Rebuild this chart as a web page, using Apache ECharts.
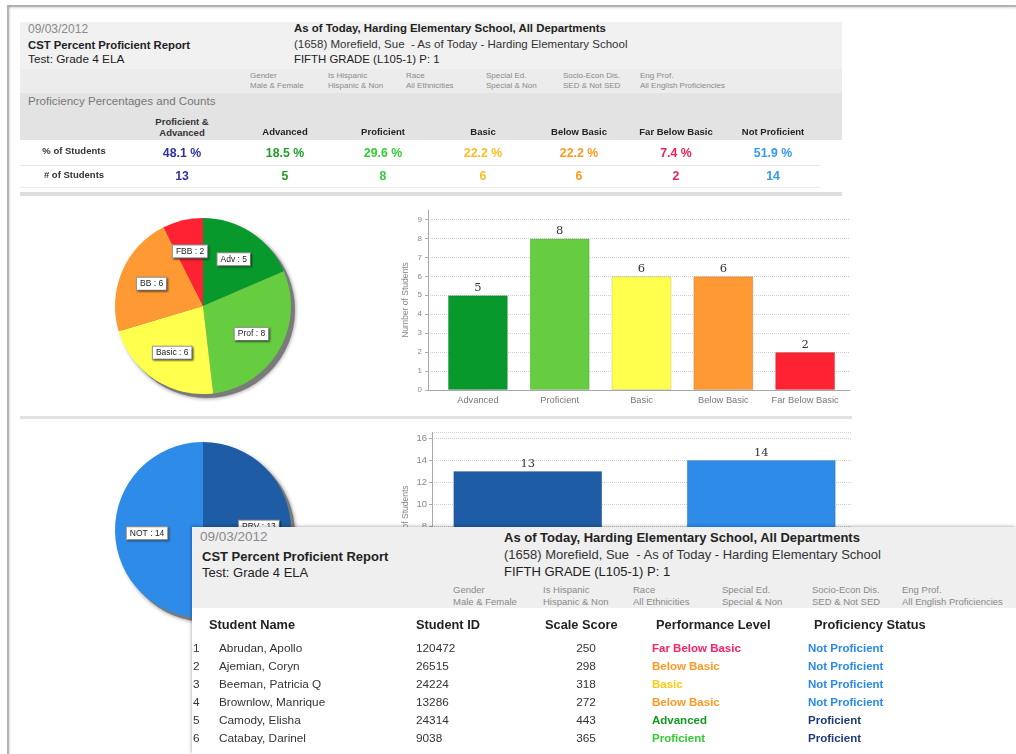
<!DOCTYPE html>
<html>
<head>
<meta charset="utf-8">
<title>CST Percent Proficient Report</title>
<script src="https://cdn.jsdelivr.net/npm/echarts@6/dist/echarts.min.js"></script>
<style>
body { margin: 0; width: 1016px; height: 754px; overflow: hidden; background: #fff; position: relative;
  font-family: "Liberation Sans", Arial, sans-serif; color: #222; }
#frameTop { position: absolute; left: 7px; top: 5px; right: 0; height: 2px; background: #b4b4b4; box-shadow: 0 1px 2px rgba(0,0,0,0.15); }
#frameLeft { position: absolute; left: 7px; top: 5px; bottom: 0; width: 2px; background: #b4b4b4; box-shadow: 1px 0 2px rgba(0,0,0,0.15); }
#chart { position: absolute; left: 0; top: 0; width: 1016px; height: 754px; z-index: 1; }
.band { position: absolute; z-index: 2; }
.t { position: absolute; white-space: pre; z-index: 3; transform: translateY(-50%); line-height: 1; }
.c { transform: translate(-50%, -50%); text-align: center; }
.b { font-weight: bold; }
#overlay { position: absolute; left: 192px; top: 527px; width: 824px; height: 227px; background: #fff; z-index: 5;
  box-shadow: -1px -1px 3px rgba(0,0,0,0.25); }
</style>
</head>
<body>
<div id="frameTop"></div>
<div id="frameLeft"></div>
<div id="chart"></div>
<div id="overlay"></div>
<script>
// header texts
var reportDate = '09/03/2012';
var reportTitle = 'CST Percent Proficient Report';
var reportTest = 'Test: Grade 4 ELA';
var scopeLines = ['As of Today, Harding Elementary School, All Departments',
  '(1658) Morefield, Sue  - As of Today - Harding Elementary School',
  'FIFTH GRADE (L105-1) P: 1'];
var filterNames = ['Gender', 'Is Hispanic', 'Race', 'Special Ed.', 'Socio-Econ Dis.', 'Eng Prof.'];
var filterValues = ['Male & Female', 'Hispanic & Non', 'All Ethnicities', 'Special & Non', 'SED & Not SED', 'All English Proficiencies'];

// summary table
var summaryHeads = ['Proficient &|Advanced', 'Advanced', 'Proficient', 'Basic', 'Below Basic', 'Far Below Basic', 'Not Proficient'];
var summaryPct = ['48.1 %', '18.5 %', '29.6 %', '22.2 %', '22.2 %', '7.4 %', '51.9 %'];
var summaryCount = [13, 5, 8, 6, 6, 2, 14];

// performance levels (pie + bar 1)
var levels = ['Advanced', 'Proficient', 'Basic', 'Below Basic', 'Far Below Basic'];
var levelShort = ['Adv', 'Prof', 'Basic', 'BB', 'FBB'];
var levelCounts = [5, 8, 6, 6, 2];

// proficiency status (pie + bar 2)
var statusCats = ['Proficient & Advanced', 'Not Proficient'];
var statusShort = ['PRV', 'NOT'];
var statusCounts = [13, 14];

// student list
var studentNames = ['Abrudan, Apollo', 'Ajemian, Coryn', 'Beeman, Patricia Q', 'Brownlow, Manrique', 'Camody, Elisha', 'Catabay, Darinel'];
var studentIds = ['120472', '26515', '24224', '13286', '24314', '9038'];
var studentScores = [250, 298, 318, 272, 443, 365];
var studentLevels = ['Far Below Basic', 'Below Basic', 'Basic', 'Below Basic', 'Advanced', 'Proficient'];
var studentStatus = ['Not Proficient', 'Not Proficient', 'Not Proficient', 'Not Proficient', 'Proficient', 'Proficient'];

// colours
var levelColors = ['#07992b', '#66cc40', '#ffff4d', '#ff9933', '#ff2233'];
var statusColors = ['#1f5ca6', '#2e8be8'];
var pctColors = ['#3030a8', '#1f9e22', '#33cc33', '#ffbb22', '#ff9922', '#ee2255', '#3399ee'];
var levelTextColor = { 'Far Below Basic': '#ff2266', 'Below Basic': '#ff9922', 'Basic': '#ffcc11', 'Advanced': '#119922', 'Proficient': '#33cc33' };
var statusTextColor = { 'Not Proficient': '#2a8aee', 'Proficient': '#1e3c78' };

function band(parent, x, y, w, h, bg) {
  var d = document.createElement('div');
  d.className = 'band';
  d.style.cssText = 'left:' + x + 'px;top:' + y + 'px;width:' + w + 'px;height:' + h + 'px;background:' + bg;
  parent.appendChild(d);
}
function put(parent, x, y, txt, size, color, cls) {
  var d = document.createElement('div');
  d.className = 't ' + (cls || '');
  d.style.left = x + 'px';
  d.style.top = y + 'px';
  d.style.fontSize = size + 'px';
  d.style.color = color;
  d.textContent = txt;
  parent.appendChild(d);
}

var body = document.body;
var ov = document.getElementById('overlay');

// ---- top summary block
band(body, 20, 22, 822, 47, '#f1f1f1');
band(body, 20, 69, 822, 24, '#ececec');
band(body, 20, 93, 822, 47, '#e3e3e3');
band(body, 20, 165, 800, 1, '#e8e8e8');
band(body, 20, 187, 800, 1, '#eeeeee');
band(body, 20, 192, 822, 4, '#dedede');
band(body, 20, 416, 832, 3, '#e2e2e2');

put(body, 28, 29, reportDate, 12, '#8a8a8a');
put(body, 28, 46, reportTitle, 11.3, '#222', 'b');
put(body, 28, 60, reportTest, 11.8, '#222');
put(body, 294, 29, scopeLines[0], 11.4, '#222', 'b');
put(body, 294, 45, scopeLines[1], 11.5, '#333');
put(body, 294, 60, scopeLines[2], 11.4, '#222');
var fx = [250, 328, 406, 486, 563, 640];
filterNames.forEach(function (n, i) {
  put(body, fx[i], 76, n, 8, '#8a8a8a');
  put(body, fx[i], 86, filterValues[i], 8, '#8a8a8a');
});
put(body, 28, 101, 'Proficiency Percentages and Counts', 11.6, '#777');
var cx = [182, 285, 383, 483, 579, 676, 773];
summaryHeads.forEach(function (h, i) {
  var parts = h.split('|');
  if (parts.length > 1) {
    put(body, cx[i], 122, parts[0], 9.5, '#333', 'c b');
    put(body, cx[i], 133, parts[1], 9.5, '#333', 'c b');
  } else {
    put(body, cx[i], 132, h, 9.5, '#222', 'c b');
  }
  put(body, cx[i], 153, summaryPct[i], 12.3, pctColors[i], 'c b');
  put(body, cx[i], 176, String(summaryCount[i]), 12.3, pctColors[i], 'c b');
});
put(body, 74, 151, '% of Students', 9.5, '#333', 'c b');
put(body, 74, 175, '# of Students', 9.5, '#333', 'c b');

// ---- overlay student list
band(ov, 0, 0, 824, 81, '#efefef');
put(ov, 8, 10, reportDate, 13.5, '#8a8a8a');
put(ov, 10, 29, reportTitle, 13, '#222', 'b');
put(ov, 10, 45, reportTest, 13, '#222');
put(ov, 312, 10, scopeLines[0], 13, '#222', 'b');
put(ov, 312, 27, scopeLines[1], 13, '#333');
put(ov, 312, 44, scopeLines[2], 13, '#222');
var ox = [261, 351, 441, 530, 620, 710];
filterNames.forEach(function (n, i) {
  put(ov, ox[i], 63, n, 9.5, '#8a8a8a');
  put(ov, ox[i], 75, filterValues[i], 9.5, '#8a8a8a');
});
put(ov, 17, 98, 'Student Name', 12.8, '#222', 'b');
put(ov, 224, 98, 'Student ID', 12.8, '#222', 'b');
put(ov, 353, 98, 'Scale Score', 12.8, '#222', 'b');
put(ov, 464, 98, 'Performance Level', 12.8, '#222', 'b');
put(ov, 622, 98, 'Proficiency Status', 12.8, '#222', 'b');
studentNames.forEach(function (n, i) {
  var y = 122 + i * 18;
  put(ov, 1, y, String(i + 1), 11.8, '#333');
  put(ov, 27, y, n, 11.8, '#333');
  put(ov, 224, y, studentIds[i], 11.8, '#333');
  put(ov, 394, y, String(studentScores[i]), 11.8, '#333', 'c');
  put(ov, 460, y, studentLevels[i], 11.5, levelTextColor[studentLevels[i]], 'b');
  put(ov, 616, y, studentStatus[i], 11.5, statusTextColor[studentStatus[i]], 'b');
});

// ---- charts
var labelBox = {
  show: true, position: 'inside', color: '#222', fontSize: 8.5, backgroundColor: '#fff',
  borderColor: '#9a9a9a', borderWidth: 1, padding: [2, 3, 1, 3],
  shadowColor: 'rgba(0,0,0,0.45)', shadowBlur: 2, shadowOffsetX: 1, shadowOffsetY: 1
};
function pieShadow(center) {
  return { type: 'pie', center: center, radius: 88, silent: true, z: 1, label: { show: false },
    data: [{ value: 1, itemStyle: { color: '#7a7a7a', shadowBlur: 4, shadowColor: 'rgba(0,0,0,0.5)' } }] };
}
function pieMain(center, values, colors) {
  return { type: 'pie', center: center, radius: 88, startAngle: 90, clockwise: true, silent: true, z: 2,
    label: { show: false }, labelLine: { show: false },
    data: values.map(function (v, i) { return { value: v, itemStyle: { color: colors[i] } }; }) };
}
function pieLabels(center, values, names) {
  // larger radius so that the "inside" label sits at 60% of the visible pie
  return { type: 'pie', center: center, radius: 106, startAngle: 90, clockwise: true, silent: true, z: 3,
    itemStyle: { color: 'rgba(0,0,0,0)' },
    label: Object.assign({ formatter: function (p) { return names[p.dataIndex] + ' : ' + p.value; } }, labelBox),
    labelLine: { show: false },
    data: values.map(function (v) { return { value: v }; }) };
}

var gridLine = ['#cfcfcf', '#cfcfcf', '#cfcfcf', '#cfcfcf', '#cfcfcf', '#cfcfcf', '#cfcfcf', '#cfcfcf', '#cfcfcf', '#cfcfcf', 'rgba(0,0,0,0)'];

var option = {
  animation: false,
  grid: [
    { left: 428, top: 210, width: 422, height: 180 },
    { left: 437, top: 210, width: 409, height: 180 },
    { left: 432, top: 432.5, width: 420, height: 181.5 },
    { left: 411, top: 432.5, width: 467, height: 181.5 }
  ],
  xAxis: [
    { type: 'category', gridIndex: 0, data: levels, axisLine: { lineStyle: { color: '#a8a8a8' } },
      axisTick: { show: false }, axisLabel: { show: false } },
    { type: 'category', gridIndex: 1, data: levels, axisLine: { show: false }, axisTick: { show: false },
      axisLabel: { fontSize: 9.3, color: '#777', margin: 6, interval: 0 } },
    { type: 'category', gridIndex: 2, data: statusCats, axisLine: { lineStyle: { color: '#a8a8a8' } },
      axisTick: { show: false }, axisLabel: { show: false } },
    { type: 'category', gridIndex: 3, data: statusCats, show: false }
  ],
  yAxis: [
    { type: 'value', gridIndex: 0, min: 0, max: 9.5, interval: 1,
      name: 'Number of Students', nameLocation: 'middle', nameGap: 18,
      nameTextStyle: { fontSize: 8.5, color: '#888' },
      axisLine: { show: true, lineStyle: { color: '#a8a8a8' } },
      axisTick: { show: true, length: 3, lineStyle: { color: '#aaa' } },
      axisLabel: { fontSize: 8, color: '#888', margin: 6, showMaxLabel: false },
      splitLine: { lineStyle: { type: 'dotted', color: gridLine } } },
    { type: 'value', gridIndex: 1, min: 0, max: 9.5, show: false, splitLine: { show: false } },
    { type: 'value', gridIndex: 2, min: 0, max: 16.5, interval: 2,
      name: 'Number of Students', nameLocation: 'middle', nameGap: 22,
      nameTextStyle: { fontSize: 8.5, color: '#888' },
      axisLine: { show: true, lineStyle: { color: '#a8a8a8' } },
      axisTick: { show: true, length: 3, lineStyle: { color: '#aaa' } },
      axisLabel: { fontSize: 9.5, color: '#888', margin: 5, showMaxLabel: false },
      splitLine: { lineStyle: { type: 'dotted', color: gridLine } } },
    { type: 'value', gridIndex: 3, min: 0, max: 16.5, show: false, splitLine: { show: false } }
  ],
  series: [
    pieShadow([207, 310]),
    pieMain([203, 306], levelCounts, levelColors),
    pieLabels([203, 306], levelCounts, levelShort),
    pieShadow([207, 534]),
    pieMain([203, 530], statusCounts, statusColors),
    pieLabels([203, 530], statusCounts, statusShort),
    { type: 'bar', xAxisIndex: 1, yAxisIndex: 1, barWidth: 60, silent: true,
      data: levelCounts.map(function (v, i) {
        return { value: v, itemStyle: { color: levelColors[i], borderColor: 'rgba(0,0,0,0.12)', borderWidth: 1 } };
      }),
      label: { show: true, position: 'top', distance: 1, fontFamily: 'DejaVu Serif', fontSize: 11.5, color: '#333' } },
    { type: 'bar', xAxisIndex: 3, yAxisIndex: 3, barWidth: 149, silent: true,
      data: statusCounts.map(function (v, i) {
        return { value: v, itemStyle: { color: statusColors[i], borderColor: 'rgba(0,0,0,0.12)', borderWidth: 1 } };
      }),
      label: { show: true, position: 'top', distance: 1, fontFamily: 'DejaVu Serif', fontSize: 11.5, color: '#333' } }
  ]
};

var myChart = echarts.init(document.getElementById('chart'));
myChart.setOption(option);
</script>
</body>
</html>
